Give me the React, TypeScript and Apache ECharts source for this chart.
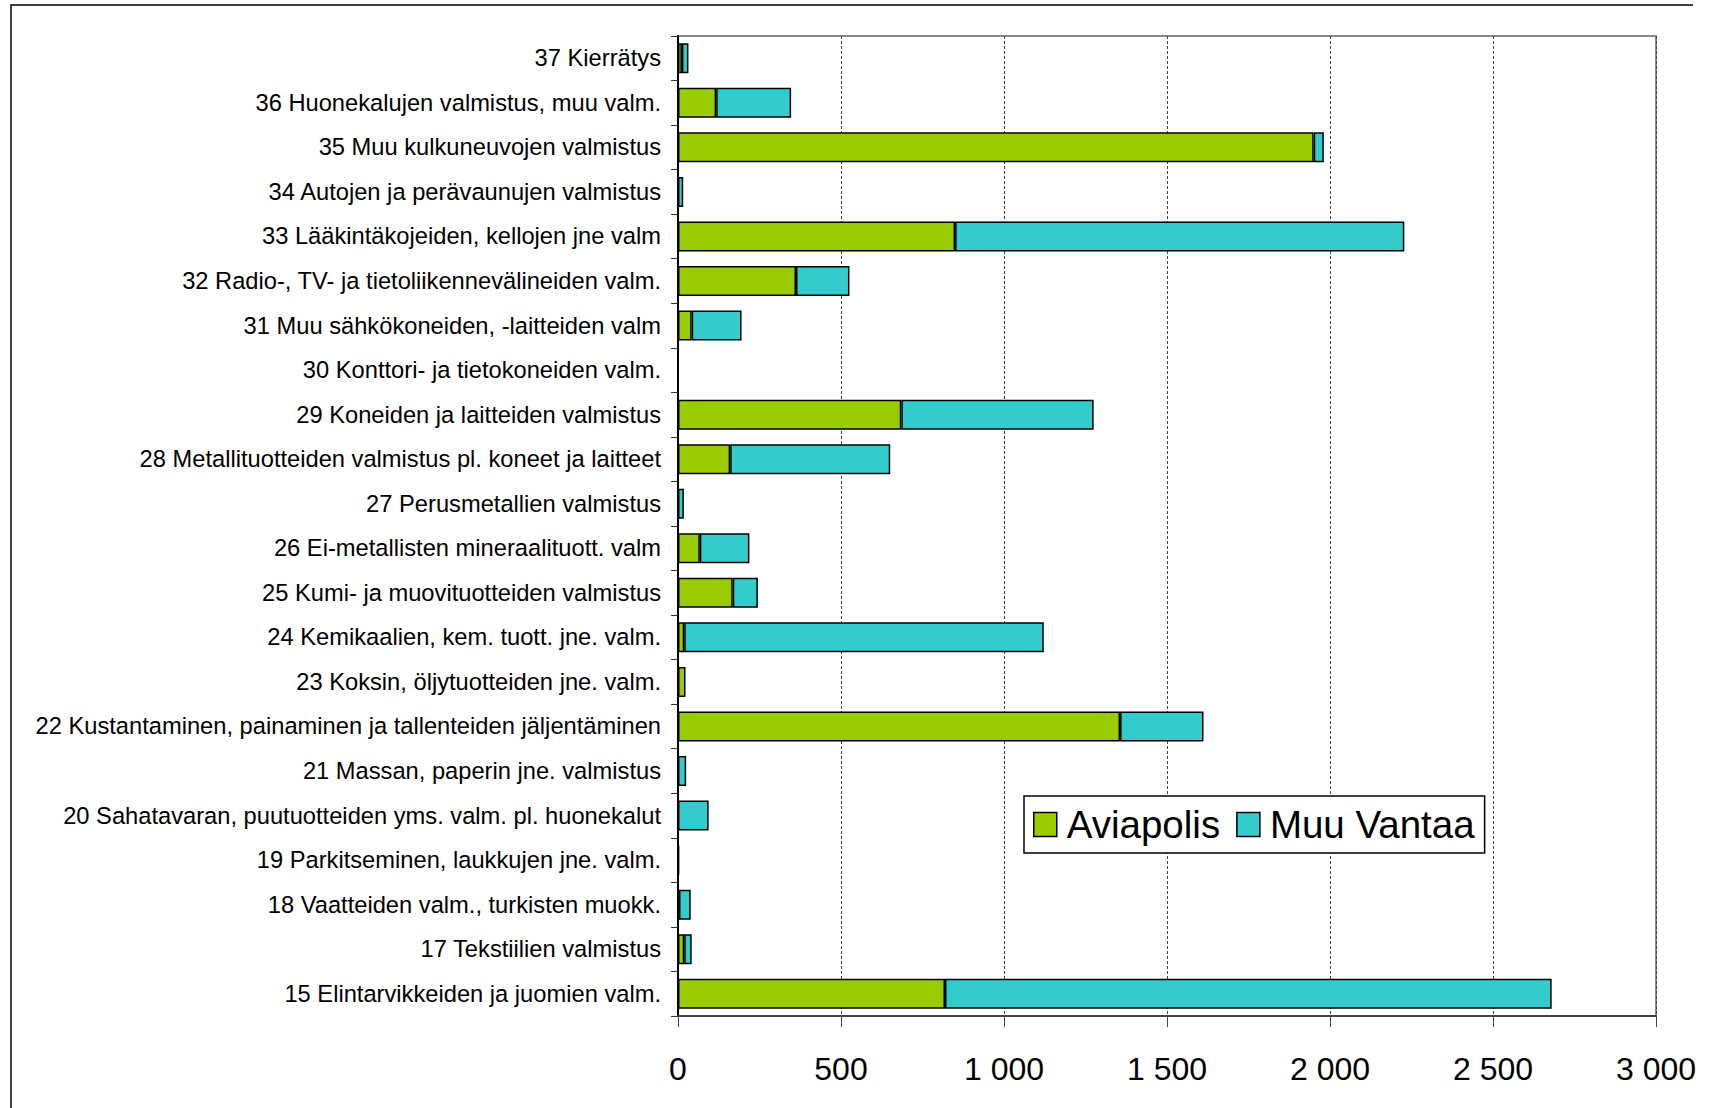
import React, { useEffect, useRef } from "react";
import * as echarts from "echarts";

const categories: string[] = [
  "15 Elintarvikkeiden ja juomien valm.",
  "17 Tekstiilien valmistus",
  "18 Vaatteiden valm., turkisten muokk.",
  "19 Parkitseminen, laukkujen jne. valm.",
  "20 Sahatavaran, puutuotteiden yms. valm. pl. huonekalut",
  "21 Massan, paperin jne. valmistus",
  "22 Kustantaminen, painaminen ja tallenteiden jäljentäminen",
  "23 Koksin, öljytuotteiden jne. valm.",
  "24 Kemikaalien, kem. tuott. jne. valm.",
  "25 Kumi- ja muovituotteiden valmistus",
  "26 Ei-metallisten mineraalituott. valm",
  "27 Perusmetallien valmistus",
  "28 Metallituotteiden valmistus pl. koneet ja laitteet",
  "29 Koneiden ja laitteiden valmistus",
  "30 Konttori- ja tietokoneiden valm.",
  "31 Muu sähkökoneiden, -laitteiden valm",
  "32 Radio-, TV- ja tietoliikennevälineiden valm.",
  "33 Lääkintäkojeiden, kellojen jne valm",
  "34 Autojen ja perävaunujen valmistus",
  "35 Muu kulkuneuvojen valmistus",
  "36 Huonekalujen valmistus, muu valm.",
  "37 Kierrätys",
];

const aviapolis: number[] = [
  819, 19, 3, 1, 0, 0, 1356, 23, 19, 168, 67, 0, 160, 685, 0, 42, 362, 850, 0, 1950, 117, 12,
];

const muuVantaa: number[] = [
  1861, 23, 36, 2, 94, 25, 256, 0, 1103, 77, 152, 18, 491, 590, 0, 153, 164, 1378, 16, 31, 230, 20,
];

const seriesNames: string[] = ["Aviapolis", "Muu Vantaa"];
const xTicks = { min: 0, max: 3000, interval: 500 };

const FONT = "'Liberation Sans', Arial, sans-serif";

export default function App() {
  const ref = useRef<HTMLDivElement>(null);

  useEffect(() => {
    if (!ref.current) return;
    const chart = echarts.init(ref.current, null, { renderer: "svg" });
    const toData = (arr: number[]) => arr.map((v) => (v === 0 ? null : v));
    const fmt = (v: number) =>
      String(v).replace(/\B(?=(\d{3})+(?!\d))/g, " ");

    chart.setOption({
      animation: false,
      backgroundColor: "#ffffff",
      textStyle: { fontFamily: FONT },
      grid: {
        left: 678,
        right: 53,
        top: 36,
        bottom: 92,
        show: true,
        borderColor: "#8a8a8a",
        borderWidth: 2,
        backgroundColor: "transparent",
      },
      legend: {
        data: seriesNames,
        left: 1024,
        top: 796,
        orient: "horizontal",
        backgroundColor: "#fff",
        borderColor: "#000",
        borderWidth: 1.5,
        borderRadius: 0,
        padding: [9, 10, 9, 9],
        icon: "rect",
        itemWidth: 23,
        itemHeight: 24,
        itemGap: 16,
        textStyle: {
          fontSize: 38.5,
          color: "#000",
          fontFamily: FONT,
          padding: [0, 0, 0, 5],
        },
        itemStyle: { borderColor: "#000", borderWidth: 1.5 },
      },
      xAxis: {
        type: "value",
        min: xTicks.min,
        max: xTicks.max,
        interval: xTicks.interval,
        axisLine: { show: true, lineStyle: { color: "#444", width: 2 } },
        axisTick: { show: true, length: 11, lineStyle: { color: "#444", width: 1 } },
        axisLabel: {
          fontSize: 32,
          color: "#000",
          margin: 37,
          fontFamily: FONT,
          formatter: (v: number) => fmt(v),
        },
        splitLine: {
          show: true,
          lineStyle: { color: "#444", width: 1, type: [3, 2] },
        },
      },
      yAxis: {
        type: "category",
        data: categories,
        axisLine: { show: true, lineStyle: { color: "#000", width: 2 } },
        axisTick: { show: true, length: 7, lineStyle: { color: "#333", width: 1 } },
        axisLabel: {
          fontSize: 23.7,
          color: "#000",
          margin: 17,
          fontFamily: FONT,
        },
        splitLine: { show: false },
      },
      series: [
        {
          name: seriesNames[0],
          type: "bar",
          stack: "total",
          barWidth: 30,
          data: toData(aviapolis),
          itemStyle: { color: "#99CC00", borderColor: "#000", borderWidth: 1.5 },
        },
        {
          name: seriesNames[1],
          type: "bar",
          stack: "total",
          barWidth: 30,
          data: toData(muuVantaa),
          itemStyle: { color: "#33CCCC", borderColor: "#000", borderWidth: 1.5 },
        },
      ],
      graphic: [
        {
          type: "polyline",
          silent: true,
          shape: { points: [[11, 1200], [11, 5], [1693, 5]] },
          style: { fill: "none", stroke: "#000", lineWidth: 1.5 },
          z: 100,
        },
      ],
    });

    return () => chart.dispose();
  }, []);

  return (
    <div
      ref={ref}
      style={{ position: "fixed", left: 0, top: 0, width: 1709, height: 1108, background: "#fff" }}
    />
  );
}
